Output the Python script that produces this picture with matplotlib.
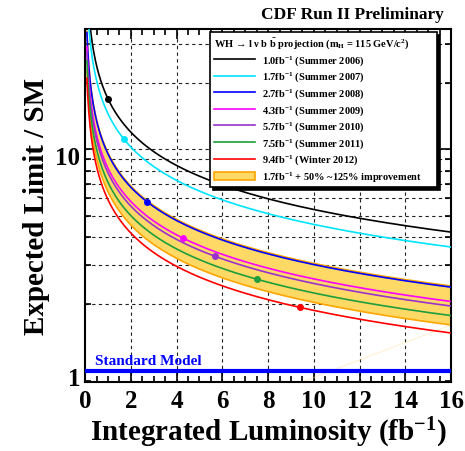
import matplotlib
matplotlib.use('Agg')
import matplotlib.pyplot as plt
import numpy as np
from matplotlib.ticker import LogLocator, FixedLocator, NullFormatter, FuncFormatter, MultipleLocator
from matplotlib.transforms import ScaledTranslation

# fonts: bold Times-like everywhere
plt.rcParams['font.family'] = ['Liberation Serif', 'DejaVu Serif']
plt.rcParams['font.weight'] = 'bold'
plt.rcParams['mathtext.fontset'] = 'custom'
plt.rcParams['mathtext.rm'] = 'Liberation Serif:bold'
plt.rcParams['mathtext.bf'] = 'Liberation Serif:bold'
plt.rcParams['mathtext.it'] = 'Liberation Serif:bold:italic'
plt.rcParams['mathtext.default'] = 'rm'

# data: measured luminosity and the expected limit at that point
lumi = [1.0, 1.7, 2.7, 4.3, 5.7, 7.5, 9.4]
limit = [16.9, 11.1, 5.8, 3.96, 3.28, 2.59, 1.93]
labels = ['1.0fb$^{-1}$ (Summer 2006)', '1.7fb$^{-1}$ (Summer 2007)',
          '2.7fb$^{-1}$ (Summer 2008)', '4.3fb$^{-1}$ (Summer 2009)',
          '5.7fb$^{-1}$ (Summer 2010)', '7.5fb$^{-1}$ (Summer 2011)',
          '9.4fb$^{-1}$ (Winter 2012)']
colors = ['black', '#00E5FF', '#0000FF', '#FF00FF', '#9932CC', '#1E9E3C', '#FF0000']
# band: 1.7 fb-1 result with 50% .. 125% improvement
band_base = 1  # index of the 1.7 fb-1 curve
improvement = [0.50, 1.25]

fig, ax = plt.subplots(figsize=(4.65, 4.52), dpi=100)
fig.subplots_adjust(left=0.183, right=0.970, bottom=0.153, top=0.934)

# projection curves scale as 1/sqrt(L)
L = np.linspace(0.08, 16, 600)
base = limit[band_base] * np.sqrt(lumi[band_base] / L)
ax.fill_between(L, base / (1 + improvement[1]), base / (1 + improvement[0]),
                color='#FFD966', edgecolor='none', zorder=2)
ax.plot(L, base / (1 + improvement[0]), color='#FFA500', lw=1.2, zorder=2)
ax.plot(L, base / (1 + improvement[1]), color='#FFA500', lw=1.2, zorder=2)
# faint closing edge of the band polygon
ax.plot([9.5, 16], [0.89, base[-1] / (1 + improvement[1])], color='#FFD580',
        lw=0.8, alpha=0.35, zorder=2)

for l0, y0, c, lab in zip(lumi, limit, colors, labels):
    ax.plot(L, y0 * np.sqrt(l0 / L), color=c, lw=1.2, label=lab, zorder=3)
    ax.plot(l0, y0, 'o', color=c, ms=4, zorder=4)

# proxy for band in legend
ax.fill_between([], [], [], facecolor='#FFD966', edgecolor='#FFA500', lw=1.2,
                label='1.7fb$^{-1}$ + 50% ~125% improvement')

# standard model line
ax.axhline(1.0, color='#0000FF', lw=3, zorder=5)
ax.text(0.45, 1.04, 'Standard Model', color='#0000FF', fontsize=11,
        fontweight='bold', va='bottom', zorder=5)

ax.set_yscale('log')
ax.set_xlim(0, 16)
ax.set_ylim(0.89, 35)

ax.xaxis.set_major_locator(MultipleLocator(2))
ax.xaxis.set_minor_locator(MultipleLocator(0.5))
ax.yaxis.set_major_locator(FixedLocator([1, 10]))
ax.yaxis.set_major_formatter(FuncFormatter(lambda v, p: '%d' % v))
ax.yaxis.set_minor_locator(LogLocator(base=10, subs=np.arange(2, 10)))
ax.yaxis.set_minor_formatter(NullFormatter())

ax.tick_params(axis='both', which='both', direction='in', top=True, right=True,
               labelsize=18, width=1.2)
ax.tick_params(axis='both', which='major', length=7)
ax.tick_params(axis='both', which='minor', length=4)
ax.tick_params(axis='x', which='major', pad=5)

# y labels sit a little low, as in the original
shift = ScaledTranslation(0, -4 / 72, fig.dpi_scale_trans)
for lab in ax.get_yticklabels():
    lab.set_transform(lab.get_transform() + shift)

# dashed grid
for xv in range(2, 16, 2):
    ax.axvline(xv, color='#222222', ls=(0, (3, 3)), lw=0.8, zorder=1)
for yv in [2, 3, 4, 5, 6, 7, 8, 9, 10, 20, 30]:
    ax.axhline(yv, color='#222222', ls=(0, (3, 3)), lw=0.8, zorder=1)

for s in ax.spines.values():
    s.set_linewidth(1.5)

ax.set_xlabel('Integrated Luminosity (fb$^{-1}$)', fontsize=21, fontweight='bold',
              labelpad=2)
ax.set_ylabel('Expected Limit / SM', fontsize=21, fontweight='bold', labelpad=4)

fig.text(0.955, 0.985, 'CDF Run II Preliminary', ha='right', va='top',
         fontsize=12.5, fontweight='bold')

leg = ax.legend(loc='upper left', bbox_to_anchor=(0.342, 0.0, 0.620, 0.991),
                mode='expand', borderaxespad=0, fontsize=7.5,
                title='WH \u2192 l \u03bd b $\\bar{\\mathrm{b}}$ projection (m$_{\\mathrm{H}}$ = 115 GeV/c$^{2}$)',
                title_fontsize=7.5, alignment='left', handlelength=3.9,
                labelspacing=0.26, borderpad=0.35, handletextpad=0.7,
                fancybox=False, framealpha=1, edgecolor='black',
                shadow={'color': 'black', 'alpha': 1})
leg.get_frame().set_linewidth(1.2)
leg.set_zorder(10)

plt.savefig('out.png', dpi=100)
